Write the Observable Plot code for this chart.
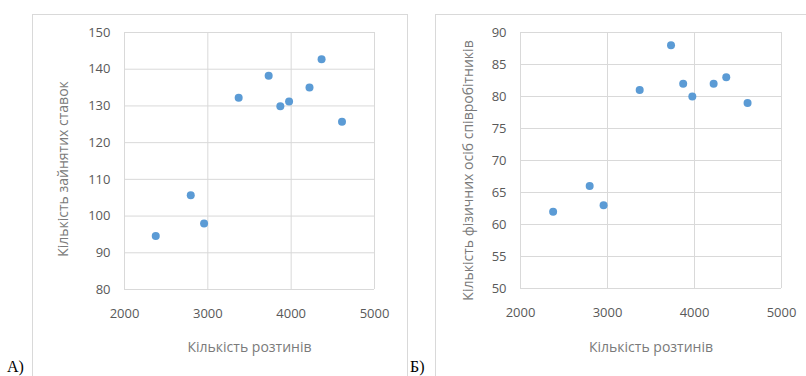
<!DOCTYPE html>
<html>
<head>
<meta charset="utf-8">
<script src="https://cdn.jsdelivr.net/npm/d3@7"></script>
<script src="https://cdn.jsdelivr.net/npm/@observablehq/plot@0.6"></script>
<style>
  html, body { margin: 0; padding: 0; background: #fff; }
  #page { position: relative; width: 806px; height: 376px; overflow: hidden; background: #fff; }
  .box { position: absolute; border: 1px solid #d9d9d9; box-sizing: border-box; }
  .chart { position: absolute; }
  .tag { position: absolute; font-family: "Liberation Serif", "DejaVu Serif", serif; font-size: 16px; color: #000; line-height: 1; }
</style>
</head>
<body>
<div id="page">
  <div class="box" style="left:32px; top:14px; width:376px; height:380px;"></div>
  <div class="box" style="left:435px; top:14px; width:390px; height:380px;"></div>
  <div id="chartA" class="chart" style="left:32px; top:14px;"></div>
  <div id="chartB" class="chart" style="left:435px; top:14px;"></div>
  <div class="tag" style="left:7px; top:359px;">А)</div>
  <div class="tag" style="left:410px; top:359px;">Б)</div>
</div>
<script>
// Shared x values: кількість розтинів
const autopsies = [2375, 2795, 2955, 3370, 3730, 3870, 3975, 4220, 4365, 4610];
// Chart A: кількість зайнятих ставок
const positions = [94.6, 105.7, 98, 132.2, 138.2, 129.9, 131.2, 135, 142.7, 125.7];
// Chart B: кількість фізичних осіб співробітників
const staff = [62, 66, 63, 81, 88, 82, 80, 82, 83, 79];

const xTicks = [2000, 3000, 4000, 5000];
const yTicksA = [80, 90, 100, 110, 120, 130, 140, 150];
const yTicksB = [50, 55, 60, 65, 70, 75, 80, 85, 90];

const xTitle = "Кількість розтинів";
const yTitleA = "Кількість зайнятих ставок";
const yTitleB = "Кількість фізичних осіб співробітників";

const FONT = "'Open Sans', 'Noto Sans', sans-serif";
const GRID = "#d9d9d9";
const DOT = "#5b9bd5";

function scatter({xs, ys, yTicks, yDomain, yTitle, width, height, margins, titleDx, titleDy, xTitleDy}) {
  const data = xs.map((x, i) => ({x, y: ys[i]}));
  return Plot.plot({
    width, height,
    marginLeft: margins[0], marginRight: margins[1], marginTop: margins[2], marginBottom: margins[3],
    style: {fontFamily: FONT, fontSize: "13px", color: "#595959", background: "transparent", overflow: "visible"},
    x: {domain: [2000, 5000]},
    y: {domain: yDomain},
    marks: [
      Plot.gridX(xTicks, {stroke: GRID, strokeOpacity: 1}),
      Plot.gridY(yTicks, {stroke: GRID, strokeOpacity: 1}),
      Plot.axisX({ticks: xTicks, tickFormat: d3.format("d"), tickSize: 0, tickPadding: 19, label: null, fill: "#595959"}),
      Plot.axisY({ticks: yTicks, tickFormat: d3.format("d"), tickSize: 0, tickPadding: 14, label: null, fill: "#595959"}),
      Plot.text([xTitle], {frameAnchor: "bottom", dy: xTitleDy, lineAnchor: "middle", textAnchor: "middle", fill: "#7a7a7a", fontSize: 14}),
      Plot.text([yTitle], {frameAnchor: "left", rotate: -90, dx: titleDx, dy: titleDy, lineAnchor: "middle", textAnchor: "middle", fill: "#7a7a7a", fontSize: 14}),
      Plot.dot(data, {x: "x", y: "y", r: 4, fill: DOT, stroke: null})
    ]
  });
}

document.getElementById("chartA").append(scatter({
  xs: autopsies, ys: positions, yTicks: yTicksA, yDomain: [80, 150], yTitle: yTitleA,
  width: 376, height: 362, margins: [92, 34, 18, 87], titleDx: -61, titleDy: 8, xTitleDy: 58
}));
document.getElementById("chartB").append(scatter({
  xs: autopsies, ys: staff, yTicks: yTicksB, yDomain: [50, 90], yTitle: yTitleB,
  width: 371, height: 362, margins: [85, 25, 18, 88], titleDx: -52, titleDy: 10, xTitleDy: 59
}));
</script>
</body>
</html>
